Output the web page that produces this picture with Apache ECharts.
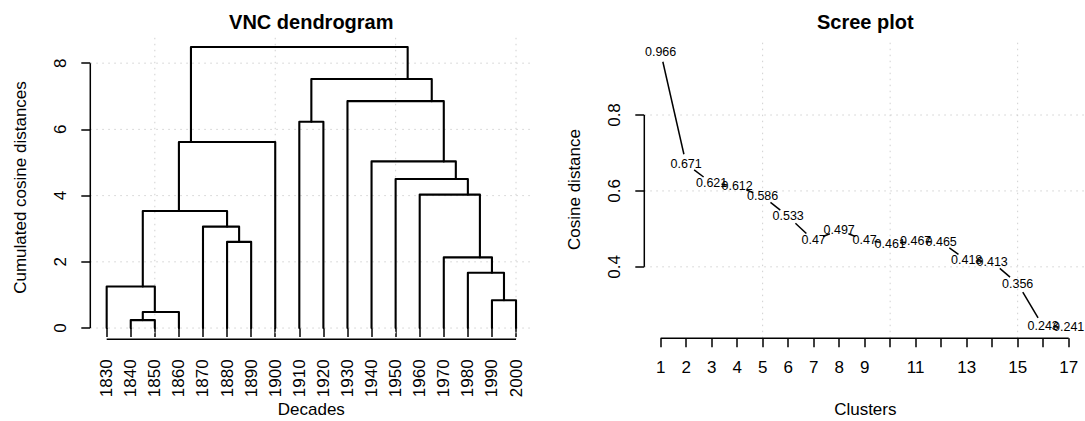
<!DOCTYPE html>
<html><head><meta charset="utf-8">
<script src="https://cdn.jsdelivr.net/npm/echarts@6/dist/echarts.min.js"></script>
<style>html,body{margin:0;padding:0;background:#fff}#c{width:1085px;height:421px}</style>
</head><body><div id="c"></div>
<script>
// ---------- data: VNC dendrogram ----------
const decades = [1830,1840,1850,1860,1870,1880,1890,1900,1910,1920,1930,1940,1950,1960,1970,1980,1990,2000];
// merge table (hclust style: negative = leaf index, positive = earlier merge)
const mergeLeft  = [-2, 1, -17, -1, -16, -15, -6, -5, 4, -14, -13, -12, 9, -9, -11, 14, 13];
const mergeRight = [-3, -4, -18, 2, 3, 5, -7, 7, 8, 6, 10, 11, -8, -10, 12, 15, 16];
const mergeHeight = [0.241,0.484,0.840,1.253,1.671,2.136,2.603,3.064,3.534,4.031,4.501,5.034,5.620,6.232,6.853,7.524,8.490];
const cumTicks = [0,2,4,6,8];
const decadeGrid = [1850,1900,1950,2000];

// ---------- data: scree plot ----------
const clusters = [1,2,3,4,5,6,7,8,9,10,11,12,13,14,15,16,17];
const cosineDist = [0.966,0.671,0.621,0.612,0.586,0.533,0.47,0.497,0.47,0.461,0.467,0.465,0.418,0.413,0.356,0.243,0.241];
const screeXTicks = [1,2,3,4,5,6,7,8,9,10,11,12,13,14,15,16,17];
const screeXLabels = [1,2,3,4,5,6,7,8,9,11,13,15,17];
const screeYTicks = [0.4,0.6,0.8];
const screeGridX = [5,10,15];

// ---------- derived structures ----------
const FONT = 'Liberation Sans, Arial, Helvetica, sans-serif';
function rRange(a, b) { const d = (b - a) * 0.04; return [a - d, b + d]; }
const lx = rRange(Math.min(...decades), Math.max(...decades));
const ly = rRange(0, Math.max(...mergeHeight));
const sx = rRange(Math.min(...clusters), Math.max(...clusters));
const sy = rRange(Math.min(...cosineDist), Math.max(...cosineDist));

const nodes = [];
const dendroSegs = [];
function nodeOf(id) { return id < 0 ? { x: decades[-id - 1], h: 0, n: 1 } : nodes[id - 1]; }
for (let i = 0; i < mergeHeight.length; i++) {
  const a = nodeOf(mergeLeft[i]), b = nodeOf(mergeRight[i]);
  const n = a.n + b.n;
  nodes.push({ x: (a.x * a.n + b.x * b.n) / n, h: mergeHeight[i], n });
  dendroSegs.push([a.x, a.h, b.x, b.h, mergeHeight[i]]);
}
const screePairs = [];
for (let i = 0; i < clusters.length - 1; i++) {
  screePairs.push([clusters[i], cosineDist[i], clusters[i + 1], cosineDist[i + 1]]);
}
const screePoints = clusters.map((c, i) => [c, cosineDist[i]]);

const GRIDC = '#d0d0d0';
function dotted(p1, p2) {
  return { type: 'line', shape: { x1: p1[0], y1: p1[1], x2: p2[0], y2: p2[1] },
    style: { stroke: GRIDC, lineWidth: 1, lineDash: [1.5, 4.5] }, silent: true };
}
function solid(p1, p2) {
  return { type: 'line', shape: { x1: p1[0], y1: p1[1], x2: p2[0], y2: p2[1] },
    style: { stroke: '#000', lineWidth: 1.5 }, silent: true };
}

const chart = echarts.init(document.getElementById('c'), null, { renderer: 'svg' });
const axisLabelBase = { color: '#000', fontSize: 17, fontFamily: FONT };
const tickBase = { show: true, length: 9, lineStyle: { color: '#000', width: 1.5 } };

chart.setOption({
  animation: false,
  backgroundColor: '#fff',
  grid: [
    { left: 90.3, top: 35.7, width: 442.1, height: 303.6 },
    { left: 644.3, top: 41.0, width: 442.1, height: 297.2 }
  ],
  xAxis: [
    { type: 'value', gridIndex: 0, min: lx[0], max: lx[1],
      axisLine: { show: false }, splitLine: { show: false },
      axisTick: Object.assign({ customValues: decades }, tickBase),
      axisLabel: Object.assign({ customValues: decades, rotate: 90, margin: 20,
        formatter: v => String(Math.round(v)) }, axisLabelBase) },
    { type: 'value', gridIndex: 1, min: sx[0], max: sx[1],
      axisLine: { show: false }, splitLine: { show: false },
      axisTick: Object.assign({ customValues: screeXTicks }, tickBase),
      axisLabel: Object.assign({ customValues: screeXLabels, margin: 21,
        formatter: v => String(Math.round(v)) }, axisLabelBase) }
  ],
  yAxis: [
    { type: 'value', gridIndex: 0, min: ly[0], max: ly[1],
      axisLine: { show: false }, splitLine: { show: false },
      axisTick: Object.assign({ customValues: cumTicks }, tickBase),
      axisLabel: Object.assign({ customValues: cumTicks, rotate: 90, margin: 21,
        formatter: v => String(Math.round(v)) }, axisLabelBase) },
    { type: 'value', gridIndex: 1, min: sy[0], max: sy[1],
      axisLine: { show: false }, splitLine: { show: false },
      axisTick: Object.assign({ customValues: screeYTicks }, tickBase),
      axisLabel: Object.assign({ customValues: screeYTicks, rotate: 90, margin: 21,
        formatter: v => String(+v.toFixed(1)) }, axisLabelBase) }
  ],
  graphic: [
    { type: 'text', x: 311.3, y: 22, style: { text: 'VNC dendrogram', fontSize: 20, fontWeight: 'bold', fontFamily: FONT, fill: '#000', align: 'center', verticalAlign: 'middle' } },
    { type: 'text', x: 865.3, y: 22, style: { text: 'Scree plot', fontSize: 20, fontWeight: 'bold', fontFamily: FONT, fill: '#000', align: 'center', verticalAlign: 'middle' } },
    { type: 'text', x: 311.3, y: 409, style: { text: 'Decades', fontSize: 17, fontFamily: FONT, fill: '#000', align: 'center', verticalAlign: 'middle' } },
    { type: 'text', x: 865.3, y: 409, style: { text: 'Clusters', fontSize: 17, fontFamily: FONT, fill: '#000', align: 'center', verticalAlign: 'middle' } },
    { type: 'text', x: 20.5, y: 187.5, rotation: Math.PI / 2, style: { text: 'Cumulated cosine distances', fontSize: 17, fontFamily: FONT, fill: '#000', align: 'center', verticalAlign: 'middle' } },
    { type: 'text', x: 574, y: 189.5, rotation: Math.PI / 2, style: { text: 'Cosine distance', fontSize: 17, fontFamily: FONT, fill: '#000', align: 'center', verticalAlign: 'middle' } }
  ],
  series: [
    { // left grid lines + axis lines
      type: 'custom', xAxisIndex: 0, yAxisIndex: 0, z: 1, silent: true,
      data: [[lx[0], ly[0]]],
      renderItem: (params, api) => {
        const ch = [];
        decadeGrid.forEach(x => ch.push(dotted(api.coord([x, ly[0]]), api.coord([x, ly[1]]))));
        cumTicks.forEach(y => ch.push(dotted(api.coord([lx[0], y]), api.coord([lx[1], y]))));
        ch.push(solid(api.coord([lx[0], cumTicks[0]]), api.coord([lx[0], cumTicks[cumTicks.length - 1]])));
        ch.push(solid(api.coord([decades[0], ly[0]]), api.coord([decades[decades.length - 1], ly[0]])));
        return { type: 'group', children: ch };
      }
    },
    { // scree grid lines + axis lines
      type: 'custom', xAxisIndex: 1, yAxisIndex: 1, z: 1, silent: true,
      data: [[sx[0], sy[0]]],
      renderItem: (params, api) => {
        const ch = [];
        screeGridX.forEach(x => ch.push(dotted(api.coord([x, sy[0]]), api.coord([x, sy[1]]))));
        screeYTicks.forEach(y => ch.push(dotted(api.coord([sx[0], y]), api.coord([sx[1], y]))));
        ch.push(solid(api.coord([sx[0], screeYTicks[0]]), api.coord([sx[0], screeYTicks[screeYTicks.length - 1]])));
        ch.push(solid(api.coord([screeXTicks[0], sy[0]]), api.coord([screeXTicks[screeXTicks.length - 1], sy[0]])));
        return { type: 'group', children: ch };
      }
    },
    { // dendrogram
      type: 'custom', xAxisIndex: 0, yAxisIndex: 0, z: 3, silent: true,
      data: dendroSegs,
      encode: { x: [0, 2], y: [1, 3, 4] },
      renderItem: (params, api) => {
        const xl = api.value(0), hl = api.value(1), xr = api.value(2), hr = api.value(3), h = api.value(4);
        const pts = [api.coord([xl, hl]), api.coord([xl, h]), api.coord([xr, h]), api.coord([xr, hr])];
        return { type: 'polyline', shape: { points: pts },
          style: { stroke: '#000', lineWidth: 2.1, fill: null, lineJoin: 'round', lineCap: 'round' } };
      }
    },
    { // scree connecting segments with gaps around labels
      type: 'custom', xAxisIndex: 1, yAxisIndex: 1, z: 3, silent: true,
      data: screePairs,
      encode: { x: [0, 2], y: [1, 3] },
      renderItem: (params, api) => {
        const a = api.coord([api.value(0), api.value(1)]);
        const b = api.coord([api.value(2), api.value(3)]);
        const dx = b[0] - a[0], dy = b[1] - a[1];
        const len = Math.sqrt(dx * dx + dy * dy);
        const gap = 10;
        if (len <= 2 * gap) return { type: 'group', children: [] };
        const ux = dx / len, uy = dy / len;
        return { type: 'line',
          shape: { x1: a[0] + ux * gap, y1: a[1] + uy * gap, x2: b[0] - ux * gap, y2: b[1] - uy * gap },
          style: { stroke: '#000', lineWidth: 1.5 } };
      }
    },
    { // scree value labels
      type: 'custom', xAxisIndex: 1, yAxisIndex: 1, z: 4, silent: true,
      data: screePoints,
      encode: { x: 0, y: 1 },
      renderItem: (params, api) => {
        const p = api.coord([api.value(0), api.value(1)]);
        return { type: 'text', x: p[0], y: p[1],
          style: { text: String(api.value(1)), fontSize: 12.5, fontFamily: FONT, fill: '#000',
            align: 'center', verticalAlign: 'middle' } };
      }
    }
  ]
});
</script>
</body></html>
